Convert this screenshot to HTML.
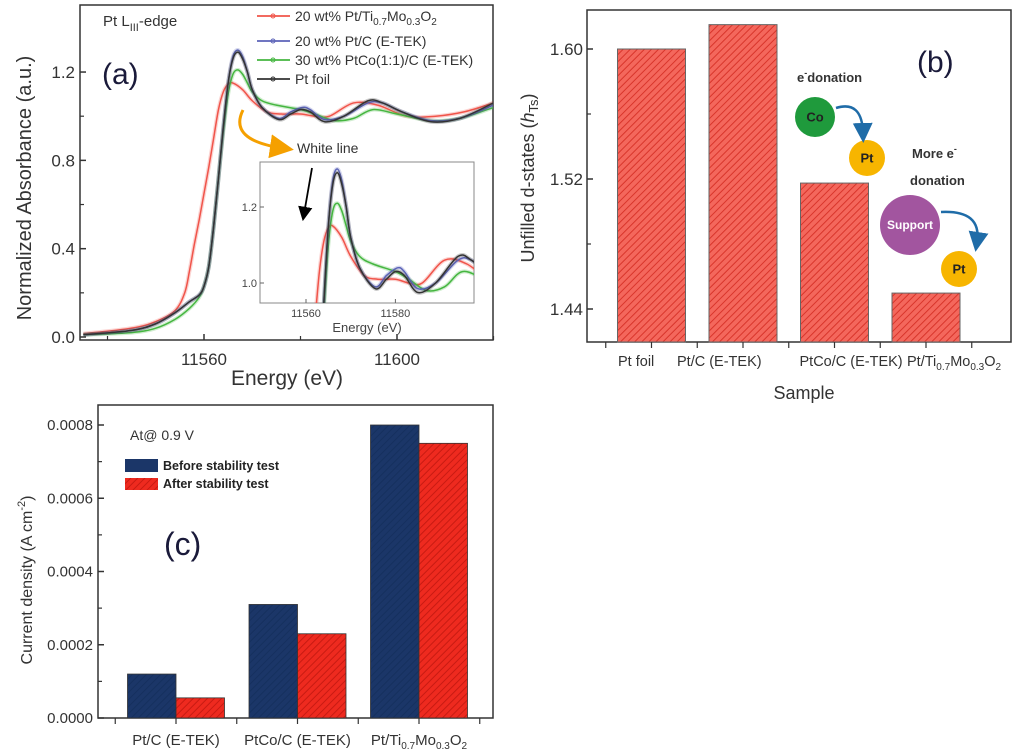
<!DOCTYPE html>
<html><head><meta charset="utf-8"><style>
body{margin:0;background:#fff;}
svg{display:block;font-family:"Liberation Sans",sans-serif;}
</style></head><body>
<svg id="fig" width="1024" height="756" viewBox="0 0 1024 756">
<defs>
<pattern id="hatchR" width="5" height="5" patternUnits="userSpaceOnUse" patternTransform="rotate(45)">
<rect width="5" height="5" fill="#f4675c"/><line x1="0" y1="0" x2="0" y2="5" stroke="#d8352b" stroke-width="2"/></pattern>
<pattern id="hatchR2" width="5" height="5" patternUnits="userSpaceOnUse" patternTransform="rotate(45)">
<rect width="5" height="5" fill="#ee2a1f"/><line x1="0" y1="0" x2="0" y2="5" stroke="#c81b12" stroke-width="2"/></pattern>
<pattern id="hatchB" width="5" height="5" patternUnits="userSpaceOnUse" patternTransform="rotate(45)">
<rect width="5" height="5" fill="#1b3668"/><line x1="0" y1="0" x2="0" y2="5" stroke="#15305e" stroke-width="2"/></pattern>
<clipPath id="clipA"><rect x="80" y="5" width="413" height="335"/></clipPath>
<clipPath id="clipI"><rect x="260" y="162" width="214" height="141"/></clipPath>
<marker id="arrK" markerWidth="8" markerHeight="8" refX="4" refY="4" orient="auto"><path d="M0,0 L8,4 L0,8 z" fill="#000"/></marker>
<marker id="arrO" markerWidth="8" markerHeight="8" refX="4" refY="4" orient="auto"><path d="M0,0 L8,4 L0,8 z" fill="#f5a000"/></marker>
<marker id="arrB" markerWidth="8" markerHeight="8" refX="4" refY="4" orient="auto"><path d="M0,0 L8,4 L0,8 z" fill="#1f6ca8"/></marker>
</defs>
<g id="pa"></g>
<g id="pb"></g>
<g id="pc"></g>
</svg>
<script>
// ---------- Panel (a) data ----------
const foilE=[11535,11545,11550,11554,11557,11559,11560,11561,11562,11563,11564,11565,11566,11567,11568,11569,11570,11572,11575.5,11578,11580,11582,11585,11589,11594,11597,11601,11607,11613,11620];
const foilV=[0.01,0.03,0.06,0.11,0.16,0.19,0.23,0.32,0.5,0.72,0.95,1.15,1.26,1.29,1.26,1.2,1.12,1.04,0.985,1.01,1.03,1.02,0.975,1.0,1.07,1.06,1.02,0.975,0.99,1.06];
const blueE=[11535,11545,11550,11554,11557,11559,11560,11561,11562,11563,11564,11565,11566,11567,11568,11569,11570,11572,11575.5,11578,11580.5,11582,11585,11589,11594,11597,11601,11607,11613,11620];
const blueV=[0.01,0.03,0.06,0.11,0.16,0.19,0.23,0.32,0.5,0.72,0.95,1.15,1.27,1.3,1.27,1.2,1.12,1.04,0.99,1.02,1.04,1.03,0.985,1.0,1.06,1.06,1.02,0.98,0.99,1.05];
const greenE=[11535,11545,11550,11554,11557,11559,11560,11561,11562,11563,11564,11565,11566,11567,11568,11569,11570,11572,11575,11580,11583,11587,11591,11595,11600,11607,11613,11620];
const greenV=[0.01,0.02,0.04,0.08,0.13,0.18,0.23,0.32,0.5,0.72,0.93,1.1,1.19,1.21,1.19,1.15,1.11,1.07,1.05,1.03,1.01,0.98,0.99,1.03,1.01,0.98,0.99,1.04];
const redE=[11535,11545,11550,11554,11556,11557,11558,11559,11560,11561,11562,11563,11564,11565,11566,11568,11570,11573,11576,11580,11583,11586,11591,11596,11602,11608,11614,11620];
const redV=[0.015,0.04,0.07,0.12,0.2,0.3,0.42,0.53,0.65,0.77,0.9,1.03,1.11,1.145,1.15,1.12,1.07,1.02,1.01,1.01,1.0,1.0,1.06,1.05,1.0,1.0,1.02,1.06];
const aXTicks=[11560,11600];
const aYTicks=[0.0,0.4,0.8,1.2];
const iXTicks=[11560,11580];
const iYTicks=[1.0,1.2];
// ---------- Panel (b) data ----------
const bCats=["Pt foil","Pt/C (E-TEK)","PtCo/C (E-TEK)","Pt/Ti0.7Mo0.3O2"];
const bVals=[1.600,1.615,1.5175,1.4498];
const bYTicks=[1.44,1.52,1.60];
// ---------- Panel (c) data ----------
const cCats=["Pt/C (E-TEK)","PtCo/C (E-TEK)","Pt/Ti0.7Mo0.3O2"];
const cBefore=[0.00012,0.00031,0.0008];
const cAfter=[0.000055,0.00023,0.00075];
const cYTicks=[0.0000,0.0002,0.0004,0.0006,0.0008];

const NS="http://www.w3.org/2000/svg";
function mk(parent,tag,attrs,text){const e=document.createElementNS(NS,tag);for(const k in attrs)e.setAttribute(k,attrs[k]);if(text!==undefined)e.textContent=text;parent.appendChild(e);return e;}
function smoothPath(P){
  let d='M'+P[0][0]+','+P[0][1];
  for(let i=0;i<P.length-1;i++){
    const p0=P[i-1]||P[i],p1=P[i],p2=P[i+1],p3=P[i+2]||p2;
    const c1=[p1[0]+(p2[0]-p0[0])/6,p1[1]+(p2[1]-p0[1])/6];
    const c2=[p2[0]-(p3[0]-p1[0])/6,p2[1]-(p3[1]-p1[1])/6];
    d+=' C'+c1[0]+','+c1[1]+' '+c2[0]+','+c2[1]+' '+p2[0]+','+p2[1];
  }
  return d;
}

// ===== Panel A =====
const pa=document.getElementById('pa');
const ax=e=>204+(e-11560)*4.825;
const ay=v=>337-v*220.8;
const ix=e=>306+(e-11560)*4.47;
const iy=v=>283-(v-1.0)*380;
let r=mk(pa,'rect',{x:80,y:5,width:413,height:335,fill:'none',stroke:'#333','stroke-width':1.5});

const series=[['red',redE,redV,'#f0544a'],['green',greenE,greenV,'#45b640'],['blue',blueE,blueV,'#5b63b8'],['foil',foilE,foilV,'#333']];
function drawSeries(g,fx,fy,clip,prefix){
  series.forEach(s=>{
    const P=s[1].map((e,i)=>[fx(e),fy(s[2][i])]);
    const halo=mk(g,'path',{d:smoothPath(P),fill:'none',stroke:s[3],'stroke-width':4,opacity:0.25,'clip-path':clip});
    
    
    const pl=mk(g,'path',{d:smoothPath(P),fill:'none',stroke:s[3],'stroke-width':1.5,'clip-path':clip});
    
    
  });
}
drawSeries(pa,ax,ay,'url(#clipA)','main');
aXTicks.forEach(t=>{mk(pa,'line',{x1:ax(t),x2:ax(t),y1:340,y2:334,stroke:'#333','stroke-width':1.5});
  const tl=mk(pa,'text',{x:ax(t),y:365,'font-size':17,'text-anchor':'middle',fill:'#333'},t);
  });
[11540,11580,11620].forEach(t=>mk(pa,'line',{x1:ax(t),x2:ax(t),y1:340,y2:336,stroke:'#333','stroke-width':1.2}));
aYTicks.forEach(t=>{mk(pa,'line',{x1:80,x2:86,y1:ay(t),y2:ay(t),stroke:'#333','stroke-width':1.5});
  const tl=mk(pa,'text',{x:75,y:ay(t)+6,'font-size':17,'text-anchor':'end',fill:'#333'},t.toFixed(1));
  });
[0.2,0.6,1.0].forEach(t=>mk(pa,'line',{x1:80,x2:84,y1:ay(t),y2:ay(t),stroke:'#333','stroke-width':1.2}));
let t;
t=mk(pa,'text',{x:287,y:385,'font-size':21,'text-anchor':'middle',fill:'#333'},'Energy (eV)');
t=mk(pa,'text',{x:0,y:0,'font-size':20,'text-anchor':'middle',fill:'#333',transform:'translate(31,188) rotate(-90)'},'Normalized Absorbance (a.u.)');
t=mk(pa,'text',{x:103,y:26,'font-size':15,fill:'#333'});t.innerHTML='Pt L<tspan font-size="11" dy="5">III</tspan><tspan dy="-5">-edge</tspan>';
t=mk(pa,'text',{x:102,y:84,'font-size':30,fill:'#1a1a3a'},'(a)');
const legA=[['20 wt% Pt/Ti','#f0544a'],['20 wt% Pt/C (E-TEK)','#5b63b8'],['30 wt% PtCo(1:1)/C (E-TEK)','#45b640'],['Pt foil','#333']];
const legY=[16,41,60,79];
legA.forEach((l,i)=>{
  const g=mk(pa,'g',{});
  mk(g,'line',{x1:257,x2:290,y1:legY[i],y2:legY[i],stroke:l[1],'stroke-width':1.8});
  mk(g,'circle',{cx:273,cy:legY[i],r:2,fill:'none',stroke:l[1]});
  const tx=mk(g,'text',{x:295,y:legY[i]+5,'font-size':14,fill:'#333'});
  if(i===0)tx.innerHTML='20 wt% Pt/Ti<tspan font-size="10" dy="4">0.7</tspan><tspan dy="-4">Mo</tspan><tspan font-size="10" dy="4">0.3</tspan><tspan dy="-4">O</tspan><tspan font-size="10" dy="4">2</tspan>';
  else tx.textContent=l[0];
});
let p=mk(pa,'path',{d:'M243,110 Q228,140 282,148',fill:'none',stroke:'#f5a000','stroke-width':3,'marker-end':'url(#arrO)'});
t=mk(pa,'text',{x:297,y:153,'font-size':14,fill:'#333'},'White line');
// inset
const gi=mk(pa,'g',{});
mk(gi,'rect',{x:260,y:162,width:214,height:141,fill:'#fff',stroke:'#888','stroke-width':1});
drawSeries(gi,ix,iy,'url(#clipI)','inset');
iXTicks.forEach(v=>{mk(gi,'line',{x1:ix(v),x2:ix(v),y1:303,y2:299,stroke:'#666'});
  const tl=mk(gi,'text',{x:ix(v),y:317,'font-size':11,'text-anchor':'middle',fill:'#444'},v);});
iYTicks.forEach(v=>{mk(gi,'line',{x1:260,x2:264,y1:iy(v),y2:iy(v),stroke:'#666'});
  const tl=mk(gi,'text',{x:257,y:iy(v)+4,'font-size':11,'text-anchor':'end',fill:'#444'},v.toFixed(1));});
t=mk(gi,'text',{x:367,y:332,'font-size':13,'text-anchor':'middle',fill:'#444'},'Energy (eV)');
p=mk(gi,'line',{x1:312,y1:168,x2:304,y2:214,stroke:'#000','stroke-width':1.8,'marker-end':'url(#arrK)'});

// ===== Panel B =====
const pb=document.getElementById('pb');
const bx=i=>651.5+91.5*i;
const by=v=>49+(1.60-v)*1625;
r=mk(pb,'rect',{x:587,y:10,width:424,height:332,fill:'none',stroke:'#333','stroke-width':1.5});
bVals.forEach((v,i)=>{const b=mk(pb,'rect',{x:bx(i)-34,y:by(v),width:68,height:342-by(v),fill:'url(#hatchR)',stroke:'#666','stroke-width':1});
  });
bYTicks.forEach(v=>{mk(pb,'line',{x1:587,x2:593,y1:by(v),y2:by(v),stroke:'#333','stroke-width':1.5});
  const tl=mk(pb,'text',{x:583,y:by(v)+6,'font-size':17,'text-anchor':'end',fill:'#333'},v.toFixed(2));});
[1.48,1.56].forEach(v=>mk(pb,'line',{x1:587,x2:591,y1:by(v),y2:by(v),stroke:'#333','stroke-width':1.2}));
for(let k=-0.5;k<=3.5;k+=0.5){mk(pb,'line',{x1:bx(k),x2:bx(k),y1:342,y2:348,stroke:'#333','stroke-width':1.2});}
const bLabOff=[-33.5,-66,-35,-19];
bCats.forEach((c,i)=>{const tl=mk(pb,'text',{x:bx(i)+bLabOff[i],y:366,'font-size':14.5,'text-anchor':'start',fill:'#333'});
  if(i===3)tl.innerHTML='Pt/Ti<tspan font-size="10" dy="4">0.7</tspan><tspan dy="-4">Mo</tspan><tspan font-size="10" dy="4">0.3</tspan><tspan dy="-4">O</tspan><tspan font-size="10" dy="4">2</tspan>';
  else tl.textContent=c;
  });
t=mk(pb,'text',{x:804,y:399,'font-size':18,'text-anchor':'middle',fill:'#333'},'Sample');
t=mk(pb,'text',{x:0,y:0,'font-size':18,'text-anchor':'middle',fill:'#333',transform:'translate(534,178) rotate(-90)'});
t.innerHTML='Unfilled d-states (<tspan font-style="italic">h</tspan><tspan font-size="13" dy="4">Ts</tspan><tspan dy="-4">)</tspan>';
t=mk(pb,'text',{x:917,y:72,'font-size':30,fill:'#1a1a3a'},'(b)');
t=mk(pb,'text',{x:797,y:82,'font-size':13,'font-weight':'bold',fill:'#333'});t.innerHTML='e<tspan font-size="9" dy="-6">-</tspan><tspan dy="6">donation</tspan>';
t=mk(pb,'text',{x:912,y:158,'font-size':13,'font-weight':'bold',fill:'#333'});t.innerHTML='More e<tspan font-size="9" dy="-6">-</tspan>';
t=mk(pb,'text',{x:910,y:185,'font-size':13,'font-weight':'bold',fill:'#333'},'donation');
function circ(cx,cy,rr,fill,label,name,fs,col){const g=mk(pb,'g',{});
  mk(g,'circle',{cx:cx,cy:cy,r:rr,fill:fill});mk(g,'text',{x:cx,y:cy+fs*0.35,'font-size':fs,'font-weight':'bold','text-anchor':'middle',fill:col},label);}
circ(815,117,20,'#1f9a3c','Co','co-circle',13,'#222');
circ(867,158,18,'#f7b500','Pt','pt-circle-1',13,'#222');
circ(910,225,30,'#a2559f','Support','support-circle',12,'#fff');
circ(959,269,18,'#f7b500','Pt','pt-circle-2',13,'#222');
p=mk(pb,'path',{d:'M836,108 Q862,100 863,133',fill:'none',stroke:'#1f6ca8','stroke-width':2.5,'marker-end':'url(#arrB)'});
p=mk(pb,'path',{d:'M941,212 Q982,210 977,242',fill:'none',stroke:'#1f6ca8','stroke-width':2.5,'marker-end':'url(#arrB)'});

// ===== Panel C =====
const pc=document.getElementById('pc');
const cx=i=>176+121.5*i;
const cy=v=>718-v*366250;
r=mk(pc,'rect',{x:98,y:405,width:395,height:313,fill:'none',stroke:'#333','stroke-width':1.5});
cCats.forEach((c,i)=>{
  const b1=mk(pc,'rect',{x:cx(i)-48.5,y:cy(cBefore[i]),width:48.5,height:718-cy(cBefore[i]),fill:'url(#hatchB)',stroke:'#333','stroke-width':0.8});
  
  const b2=mk(pc,'rect',{x:cx(i),y:cy(cAfter[i]),width:48.5,height:718-cy(cAfter[i]),fill:'url(#hatchR2)',stroke:'#333','stroke-width':0.8});
  
  const tl=mk(pc,'text',{x:cx(i),y:745,'font-size':15,'text-anchor':'middle',fill:'#333'});
  if(i===2)tl.innerHTML='Pt/Ti<tspan font-size="10" dy="4">0.7</tspan><tspan dy="-4">Mo</tspan><tspan font-size="10" dy="4">0.3</tspan><tspan dy="-4">O</tspan><tspan font-size="10" dy="4">2</tspan>';
  else tl.textContent=c;
  
});
for(let k=-0.5;k<=2.5;k+=0.5)mk(pc,'line',{x1:cx(k),x2:cx(k),y1:718,y2:724,stroke:'#333','stroke-width':1.2});
cYTicks.forEach(v=>{mk(pc,'line',{x1:98,x2:104,y1:cy(v),y2:cy(v),stroke:'#333','stroke-width':1.5});
  const tl=mk(pc,'text',{x:93,y:cy(v)+5,'font-size':15,'text-anchor':'end',fill:'#333'},v.toFixed(4));});
[0.0001,0.0003,0.0005,0.0007].forEach(v=>mk(pc,'line',{x1:98,x2:102,y1:cy(v),y2:cy(v),stroke:'#333','stroke-width':1.2}));
t=mk(pc,'text',{x:0,y:0,'font-size':16,'text-anchor':'middle',fill:'#333',transform:'translate(32,580) rotate(-90)'});
t.innerHTML='Current density (A cm<tspan font-size="11" dy="-7">-2</tspan><tspan dy="7">)</tspan>';
t=mk(pc,'text',{x:130,y:440,'font-size':14,fill:'#333'},'At@ 0.9 V');
t=mk(pc,'text',{x:164,y:555,'font-size':32,fill:'#1a1a3a'},'(c)');
let g=mk(pc,'g',{});
mk(g,'rect',{x:125,y:459,width:33,height:13,fill:'#1b3668'});mk(g,'text',{x:163,y:470,'font-size':12.5,'font-weight':'bold',fill:'#222'},'Before stability test');
g=mk(pc,'g',{});
mk(g,'rect',{x:125,y:478,width:33,height:12,fill:'url(#hatchR2)'});mk(g,'text',{x:163,y:488,'font-size':12.5,'font-weight':'bold',fill:'#222'},'After stability test');
</script>
</body></html>
